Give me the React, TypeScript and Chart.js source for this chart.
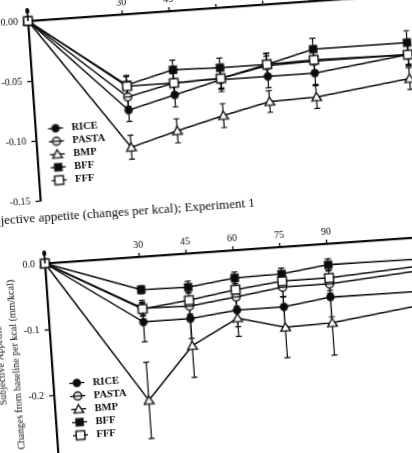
import React, { useEffect, useRef } from 'react';
import { Chart, registerables } from 'chart.js';

Chart.register(...registerables);

// ---------- data ----------
const TIMES = [0, 30, 45, 60, 75, 90, 120];
const X_TICKS = [30, 45, 60, 75, 90, 120];
const SERIES = ['RICE', 'PASTA', 'BMP', 'BFF', 'FFF'];

// Experiment 1 (upper panel)
const RICE_1 = [0, -0.08, -0.07, -0.06, -0.06, -0.06, -0.05];
const PASTA_1 = [0, -0.069, -0.06, -0.059, -0.051, -0.05, -0.05];
const BMP_1 = [0, -0.111, -0.1, -0.09, -0.081, -0.08, -0.07];
const BFF_1 = [0, -0.059, -0.049, -0.05, -0.05, -0.04, -0.04];
const FFF_1 = [0, -0.06, -0.06, -0.059, -0.05, -0.049, -0.05];

const RICE_1_ERR = [0, 0.0095, 0.01, 0.01, 0.0095, 0.0095, 0.0095];
const PASTA_1_ERR = [0, 0.008, 0.008, 0.008, 0.008, 0.008, 0.008];
const BMP_1_ERR = [0, 0.01, 0.01, 0.01, 0.009, 0.0095, 0.009];
const BFF_1_ERR = [0, 0.008, 0.008, 0.008, 0.009, 0.009, 0.01];
const FFF_1_ERR = [0, 0.008, 0.008, 0.009, 0.0095, 0.009, 0.009];

// Lower panel
const RICE_2 = [0, -0.099, -0.099, -0.091, -0.091, -0.081, -0.082];
const PASTA_2 = [0, -0.078, -0.08, -0.071, -0.061, -0.061, -0.05];
const BMP_2 = [0, -0.218, -0.14, -0.103, -0.122, -0.12, -0.102];
const BFF_2 = [0, -0.05, -0.051, -0.042, -0.041, -0.032, -0.033];
const FFF_2 = [0, -0.079, -0.071, -0.06, -0.052, -0.052, -0.043];

const RICE_2_ERR = [0, 0.03, 0.03, 0.025, 0.03, 0.03, 0.03];
const PASTA_2_ERR = [0, 0.012, 0.014, 0.014, 0.014, 0.014, 0.014];
const BMP_2_ERR = [0, 0.058, 0.048, 0.028, 0.046, 0.049, 0.045];
const BFF_2_ERR = [0, 0.006, 0.009, 0.009, 0.009, 0.009, 0.009];
const FFF_2_ERR = [0, 0.009, 0.012, 0.012, 0.012, 0.012, 0.012];

const Y_TICKS_1 = [0, -0.05, -0.1, -0.15];
const Y_TICKS_2 = [0, -0.1, -0.2, -0.3];

const CAPTION = 'Subjective appetite (changes per kcal); Experiment 1';
const Y_TITLE_2 = ['Subjective Appetite', 'Changes from baseline per kcal (mm/kcal)'];

// ---------- style ----------
const INK = '#0c0c0c';
const FONT = "'Liberation Serif', 'Times New Roman', serif";
const ROT_DEG = -4;
const SHIFT = 60; // page frame x offset inside rotated layer

function makeMarker(kind: string): HTMLCanvasElement {
  const c = document.createElement('canvas');
  c.width = 13;
  c.height = 13;
  const g = c.getContext('2d') as CanvasRenderingContext2D;
  const m = 6.5;
  g.lineWidth = 1.4;
  g.strokeStyle = INK;
  g.fillStyle = INK;
  if (kind === 'RICE') {
    g.beginPath();
    g.arc(m, m, 4.2, 0, Math.PI * 2);
    g.fill();
  } else if (kind === 'PASTA') {
    g.beginPath();
    g.arc(m, m, 4, 0, Math.PI * 2);
    g.fillStyle = '#fff';
    g.fill();
    g.stroke();
    g.beginPath();
    g.moveTo(m - 4, m);
    g.lineTo(m + 4, m);
    g.stroke();
  } else if (kind === 'BMP') {
    g.beginPath();
    g.moveTo(m, m - 4.5);
    g.lineTo(m + 4.8, m + 3.6);
    g.lineTo(m - 4.8, m + 3.6);
    g.closePath();
    g.fillStyle = '#fff';
    g.fill();
    g.stroke();
  } else if (kind === 'BFF') {
    g.fillRect(m - 4.2, m - 4.2, 8.4, 8.4);
  } else {
    g.fillStyle = '#fff';
    g.fillRect(m - 4.3, m - 4.3, 8.6, 8.6);
    g.strokeRect(m - 4.3, m - 4.3, 8.6, 8.6);
  }
  return c;
}

type PanelSpec = {
  values: number[][];
  errors: number[][];
  yMin: number;
  yTicks: number[];
  decimals: number;
  yTitle: string[] | null;
  legendDx: number;
  legendDy: number;
  legendGap: number;
  padBottom: number;
};

function buildConfig(spec: PanelSpec): any {
  const markers: Record<string, HTMLCanvasElement> = {};
  SERIES.forEach((s) => (markers[s] = makeMarker(s)));

  const errorBars = {
    id: 'errorBars',
    beforeDatasetsDraw(chart: any) {
      const ctx = chart.ctx;
      const ys = chart.scales.y;
      ctx.save();
      ctx.strokeStyle = INK;
      ctx.lineWidth = 1.2;
      chart.data.datasets.forEach((ds: any, i: number) => {
        const meta = chart.getDatasetMeta(i);
        ds.errors.forEach((e: number, j: number) => {
          if (!e) return;
          const pt = meta.data[j];
          const v = ds.data[j].y;
          const x = pt.x;
          const y1 = ys.getPixelForValue(v + e);
          const y2 = ys.getPixelForValue(v - e);
          ctx.beginPath();
          ctx.moveTo(x, y1);
          ctx.lineTo(x, y2);
          ctx.moveTo(x - 3, y1);
          ctx.lineTo(x + 3, y1);
          ctx.moveTo(x - 3, y2);
          ctx.lineTo(x + 3, y2);
          ctx.stroke();
        });
      });
      ctx.restore();
    },
  };

  const innerLegend = {
    id: 'innerLegend',
    afterDraw(chart: any) {
      const ctx = chart.ctx;
      const a = chart.chartArea;
      ctx.save();
      // small extension of the y axis above the origin
      ctx.strokeStyle = INK;
      ctx.fillStyle = INK;
      ctx.lineWidth = 1.6;
      ctx.beginPath();
      ctx.moveTo(a.left, a.top);
      ctx.lineTo(a.left, a.top - 10);
      ctx.stroke();
      ctx.beginPath();
      ctx.ellipse(a.left, a.top - 10, 2, 3, 0, 0, Math.PI * 2);
      ctx.fill();
      // legend
      ctx.font = `bold 10.5px ${FONT}`;
      ctx.textBaseline = 'middle';
      ctx.textAlign = 'left';
      ctx.lineWidth = 1.3;
      SERIES.forEach((s, i) => {
        const x = a.left + spec.legendDx;
        const y = a.top + spec.legendDy + i * spec.legendGap;
        ctx.beginPath();
        ctx.moveTo(x - 7.5, y);
        ctx.lineTo(x + 7.5, y);
        ctx.stroke();
        const mk = markers[s];
        ctx.drawImage(mk, x - mk.width / 2, y - mk.height / 2);
        ctx.fillText(s, x + 16, y + 0.5);
      });
      ctx.restore();
    },
  };

  return {
    type: 'line',
    data: {
      datasets: SERIES.map((s, i) => ({
        label: s,
        data: TIMES.map((t, j) => ({ x: t, y: spec.values[i][j] })),
        errors: spec.errors[i],
        borderColor: INK,
        backgroundColor: INK,
        borderWidth: 1.5,
        pointStyle: markers[s],
        pointRadius: 5,
        pointHoverRadius: 5,
        fill: false,
        tension: 0,
        clip: false,
        order: SERIES.length - i,
      })),
    },
    options: {
      animation: false,
      responsive: false,
      events: [],
      layout: { padding: { left: 0, right: 14, top: 0, bottom: spec.padBottom } },
      plugins: {
        legend: { display: false },
        tooltip: { enabled: false },
        title: { display: false },
      },
      scales: {
        x: {
          type: 'linear',
          position: 'top',
          min: 0,
          max: 130,
          afterBuildTicks: (s: any) => {
            s.ticks = X_TICKS.map((v) => ({ value: v }));
          },
          afterFit: (s: any) => {
            s.height = 20;
          },
          grid: {
            display: true,
            drawOnChartArea: false,
            drawTicks: true,
            tickLength: 4,
            tickColor: INK,
            tickWidth: 1.3,
          },
          border: { display: true, color: INK, width: 2.2 },
          ticks: {
            color: INK,
            font: { family: FONT, size: 10 },
            padding: 2,
            maxRotation: 0,
            autoSkip: false,
            callback: (v: any) => String(v),
          },
        },
        y: {
          type: 'linear',
          min: spec.yMin,
          max: 0,
          afterBuildTicks: (s: any) => {
            s.ticks = spec.yTicks.map((v) => ({ value: v }));
          },
          afterFit: (s: any) => {
            s.width = 58;
          },
          grid: {
            display: true,
            drawOnChartArea: false,
            drawTicks: true,
            tickLength: 5,
            tickColor: INK,
            tickWidth: 1.3,
          },
          border: { display: true, color: INK, width: 2.2 },
          ticks: {
            color: INK,
            font: { family: FONT, size: 10 },
            padding: 5,
            autoSkip: false,
            callback: (v: any) => Number(v).toFixed(spec.decimals),
          },
          title: spec.yTitle
            ? {
                display: true,
                text: spec.yTitle,
                color: INK,
                font: { family: FONT, size: 10, lineHeight: 1.5 },
                padding: { top: 0, bottom: 0 },
              }
            : { display: false },
        },
      },
    },
    plugins: [errorBars, innerLegend],
  };
}

const PANEL_1: PanelSpec = {
  values: [RICE_1, PASTA_1, BMP_1, BFF_1, FFF_1],
  errors: [RICE_1_ERR, PASTA_1_ERR, BMP_1_ERR, BFF_1_ERR, FFF_1_ERR],
  yMin: -0.15,
  yTicks: Y_TICKS_1,
  decimals: 2,
  yTitle: null,
  legendDx: 20,
  legendDy: 109,
  legendGap: 13,
  padBottom: 8,
};

const PANEL_2: PanelSpec = {
  values: [RICE_2, PASTA_2, BMP_2, BFF_2, FFF_2],
  errors: [RICE_2_ERR, PASTA_2_ERR, BMP_2_ERR, BFF_2_ERR, FFF_2_ERR],
  yMin: -0.3,
  yTicks: Y_TICKS_2,
  decimals: 1,
  yTitle: Y_TITLE_2,
  legendDx: 23.5,
  legendDy: 121.5,
  legendGap: 13.1,
  padBottom: 10,
};

function Panel(props: { spec: PanelSpec; left: number; top: number; width: number; height: number }) {
  const ref = useRef<HTMLCanvasElement>(null);
  useEffect(() => {
    const chart = new Chart(ref.current as HTMLCanvasElement, buildConfig(props.spec));
    return () => chart.destroy();
  }, []);
  return (
    <canvas
      ref={ref}
      width={props.width}
      height={props.height}
      style={{
        position: 'absolute',
        left: props.left,
        top: props.top,
        width: props.width,
        height: props.height,
      }}
    />
  );
}

export default function App() {
  return (
    <div
      style={{
        position: 'fixed',
        left: 0,
        top: 0,
        width: 412,
        height: 453,
        overflow: 'hidden',
        background: '#fff',
      }}
    >
      <div
        style={{
          position: 'absolute',
          left: -SHIFT,
          top: 0,
          width: 560,
          height: 520,
          transform: `rotate(${ROT_DEG}deg)`,
          transformOrigin: `${SHIFT + 28}px 21px`,
        }}
      >
        <Panel spec={PANEL_1} left={SHIFT - 30} top={1} width={480} height={211} />
        <div
          style={{
            position: 'absolute',
            left: SHIFT - 33.5,
            top: 211,
            font: `13px ${FONT}`,
            lineHeight: '13px',
            whiteSpace: 'nowrap',
            color: INK,
          }}
        >
          {CAPTION}
        </div>
        <Panel spec={PANEL_2} left={SHIFT - 30} top={244} width={480} height={229} />
      </div>
    </div>
  );
}
